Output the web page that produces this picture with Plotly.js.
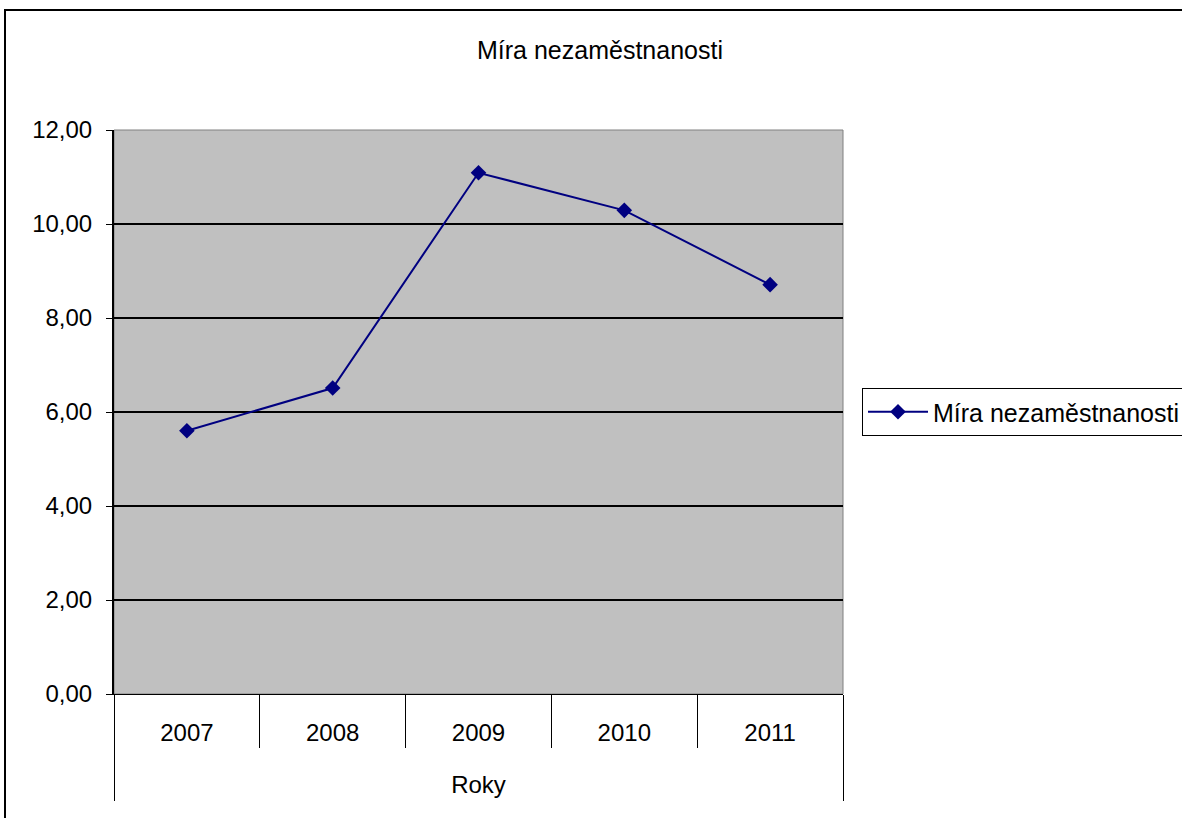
<!DOCTYPE html>
<html>
<head>
<meta charset="utf-8">
<script src="https://cdn.plot.ly/plotly-3.0.1.min.js"></script>
<style>
  html, body { margin: 0; padding: 0; background: #ffffff; overflow: hidden; }
  #frame { position: absolute; left: 4px; top: 9px; width: 1400px; height: 1000px;
           border-left: 2px solid #000; border-top: 2px solid #000; }
  #chart { position: absolute; left: 0; top: 0; width: 1182px; height: 818px; }
</style>
</head>
<body>
<div id="frame"></div>
<div id="chart"></div>
<script>
const years = ["2007", "2008", "2009", "2010", "2011"];
const unemployment = [5.60, 6.51, 11.09, 10.29, 8.71];
const seriesName = "Míra nezaměstnanosti";
const chartTitle = "Míra nezaměstnanosti";
const xTitle = "Roky";
const yTicks = [0, 2, 4, 6, 8, 10, 12];

const idx = years.map((_, i) => i);
const innerBounds = years.slice(1).map((_, i) => i + 0.5);
const outerBounds = [-0.5, years.length - 0.5];
const FONT = "Liberation Sans, Arial, sans-serif";

const trace = {
  x: idx, y: unemployment, type: "scatter", mode: "lines+markers",
  name: seriesName,
  line: { color: "#000080", width: 2 },
  marker: { symbol: "diamond", size: 12, color: "#000080" },
  xaxis: "x", yaxis: "y"
};
const helper2 = { x: [0], y: [0], xaxis: "x2", yaxis: "y", mode: "markers",
  marker: { opacity: 0 }, showlegend: false, hoverinfo: "skip" };
const helper3 = { x: [0], y: [0], xaxis: "x3", yaxis: "y", mode: "markers",
  marker: { opacity: 0 }, showlegend: false, hoverinfo: "skip" };

const range = [-0.5, years.length - 0.5];
const layout = {
  width: 1182, height: 818,
  margin: { l: 114, r: 339, t: 130, b: 124, autoexpand: false },
  paper_bgcolor: "rgba(0,0,0,0)",
  plot_bgcolor: "#c0c0c0",
  font: { family: FONT, size: 24, color: "#000" },
  separators: ", ",
  title: { text: chartTitle, xref: "container", x: 600 / 1182,
           yref: "container", y: 1 - 50 / 818, yanchor: "middle", xanchor: "center",
           font: { family: FONT, size: 25, color: "#000" } },
  xaxis: {
    range: range, tickmode: "array", tickvals: idx, ticktext: years,
    ticks: "", showgrid: false, zeroline: false,
    showline: true, linecolor: "#000", linewidth: 1,
    ticklabelstandoff: 17, automargin: false,
    title: { text: xTitle, standoff: 31, font: { family: FONT, size: 24 } },
    fixedrange: true
  },
  xaxis2: {
    overlaying: "x", range: range, tickmode: "array", tickvals: innerBounds,
    ticks: "outside", ticklen: 53, tickwidth: 1, tickcolor: "#000",
    showticklabels: false, showgrid: false, zeroline: false, showline: false,
    side: "bottom", automargin: false
  },
  xaxis3: {
    overlaying: "x", range: range, tickmode: "array", tickvals: outerBounds,
    ticks: "outside", ticklen: 106, tickwidth: 1, tickcolor: "#000",
    showticklabels: false, showgrid: false, zeroline: false, showline: false,
    side: "bottom", automargin: false
  },
  yaxis: {
    range: [0, 12], tickmode: "array", tickvals: yTicks,
    tickformat: ".2f",
    ticks: "outside", ticklen: 6, tickwidth: 1, tickcolor: "#000",
    showline: true, linecolor: "#000", linewidth: 2,
    showgrid: true, gridcolor: "#000", gridwidth: 1.5,
    zeroline: false, ticklabelstandoff: 9, fixedrange: true, automargin: false
  },
  showlegend: true,
  legend: {
    x: (862 - 114) / 729, xanchor: "left", y: 0.5, yanchor: "middle",
    bgcolor: "#fff", bordercolor: "#000", borderwidth: 1,
    itemwidth: 60,
    font: { family: FONT, size: 25, color: "#000" }
  },
  shapes: [
    { type: "rect", xref: "paper", yref: "paper", x0: 0, x1: 1, y0: 0, y1: 1,
      line: { color: "#808080", width: 1 }, layer: "below" }
  ]
};

Plotly.newPlot("chart", [trace, helper2, helper3], layout, { displayModeBar: false, staticPlot: true });
</script>
</body>
</html>
